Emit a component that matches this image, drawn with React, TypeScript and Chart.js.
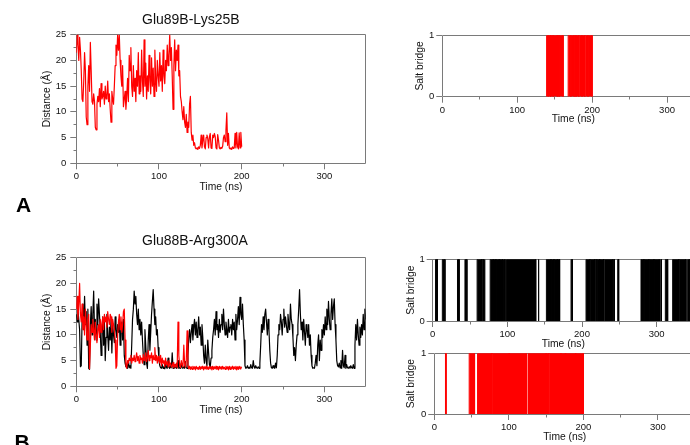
import React, { useEffect, useRef } from "react";
import { Chart, registerables } from "chart.js";

Chart.register(...registerables);

// ---------------- data ----------------
const TIME_STEP_NS = 1;
const TIME_MAX = 350;
const DIST_MAX = 25;

// Panel A: Glu89B-Lys25B distance (Å), red run, 1 ns sampling
const glu89Lys25BRed = [
  21.5, 25, 23, 20, 24.5, 22, 18, 12.5, 12, 16,
  21.5, 18, 9, 7.5, 15, 19, 14, 23.5, 18, 12,
  11.5, 13.5, 12, 7, 6.5, 11.5, 13, 12, 14.5, 11,
  15.5, 12.5, 13, 14, 11.5, 15, 12.5, 13, 16, 12,
  13.5, 10.5, 8, 14, 12.5, 11.5, 15, 19, 23, 21,
  25, 22, 25, 20, 17, 15, 19, 11, 12.5, 14,
  10.5, 13, 16.5, 12, 21, 18, 22.5, 15, 13, 19,
  14, 16.5, 12, 18, 15, 21.5, 13.5, 17, 14, 22,
  16, 13, 24, 15, 19.5, 12.5, 17, 14, 21, 16,
  13.5, 20.5, 15, 18.5, 13, 22, 16.5, 14, 20, 17,
  15, 21.5, 16, 19, 14, 22, 17, 15.5, 20, 18,
  23, 19, 21, 25, 20, 22.5, 17, 10.5, 19, 24,
  18, 22, 20, 23, 17, 18, 13, 12, 10, 8.5,
  11, 8, 7, 9.5, 6, 8, 7, 11.5, 13, 6,
  4.5, 5.5, 3.5, 4, 3, 2.8, 3, 2.7, 3.2, 2.9,
  3.5, 5.5, 3, 4.5, 5.5, 3.2, 2.8, 5, 5.5, 4.8,
  3, 5.2, 5.8, 3, 2.9, 5.5, 5, 5.8, 5.2, 3,
  2.8, 5.6, 4.5, 3, 2.8, 3.1, 2.9, 3.3, 5, 5.5,
  4.2, 6.5, 9.8, 3.5, 5.8, 3, 2.8, 3, 2.7, 3.2,
  2.9, 3, 5.8, 3, 6, 3.2, 2.8, 5.9, 3, 6,
  3.2,
];

// Panel B: Glu88B-Arg300A distance (Å), black run (0-350 ns)
const glu88Arg300ABlack = [
  14, 12.5, 15, 13, 11, 3.8, 4, 13, 16, 11,
  17.5, 12, 14.5, 8, 15, 3.5, 3.3, 12, 15.5, 10,
  14, 18.5, 11, 13, 9, 16, 12, 17, 14, 10.5,
  6, 11, 13.5, 8, 12.5, 5, 9.5, 14, 10, 7,
  11.5, 9, 13, 6.5, 12, 10, 8.5, 13.5, 11, 9.5,
  12, 10.5, 13, 8, 11.5, 12.5, 9, 13, 6, 4.5,
  3.8, 4.2, 3.5, 5, 3.6, 4, 3.5, 8, 13, 15,
  18.5, 16, 17.5, 14, 12, 15, 11, 13, 10, 12.5,
  9, 6, 4.2, 11, 8, 4.5, 3.5, 9, 12, 7,
  10.5, 14, 16.5, 18.8, 15, 12, 13.5, 10, 11, 7.5,
  5, 4, 3.6, 3.5, 4.2, 3.5, 3.8, 3.4, 4.5, 3.6,
  3.5, 5.5, 3.7, 3.5, 4, 3.6, 6.5, 3.5, 3.8, 3.6,
  4.2, 3.5, 3.6, 5, 3.5, 3.7, 3.5, 4.5, 3.6, 3.5,
  3.8, 3.5, 4.8, 3.6, 3.5, 6, 9.5, 11, 8.5, 10.5,
  12, 9, 11.5, 13, 10, 12.5, 9.5, 11, 13.5, 10,
  11.5, 8, 12, 9.5, 6, 4.5, 8, 5, 4, 9,
  6.5, 4.2, 3.8, 5.5, 7, 9.5, 11, 13, 10, 14.5,
  11, 12, 9.5, 13, 10.5, 12, 14, 11, 15, 12,
  10, 12.5, 11, 9.5, 13, 10.5, 11.5, 12, 10, 13,
  11, 12.5, 9, 14, 11, 13, 15.5, 12, 17.3, 14,
  13, 16, 12, 9, 4, 3.5, 3.6, 4, 3.5, 3.7,
  3.5, 4.2, 3.6, 3.5, 5, 3.8, 3.5, 4, 3.6, 3.5,
  3.8, 3.5, 4.5, 8, 12, 10.5, 13.5, 11, 14, 15,
  12.5, 10, 13, 11, 7, 4.5, 3.6, 3.5, 4, 3.6,
  3.5, 4.5, 3.6, 6, 10, 12, 11, 14, 12.5, 10,
  13, 15, 11.5, 13.5, 12, 10.5, 14, 12, 11, 16,
  13, 12, 9.5, 6, 7.5, 5, 8, 10, 12, 15,
  18.8, 14, 11, 12.5, 9, 13, 10.5, 8, 12, 11,
  9.5, 12, 8, 10, 6, 4, 3.5, 3.6, 3.5, 4.5,
  6, 4, 8, 10, 5, 9, 7, 11, 9.5, 12,
  10, 13.5, 11, 15, 12, 16.5, 13, 11, 14, 17,
  13, 15.5, 17, 12, 9, 5, 4, 3.8, 4.5, 3.6,
  5, 3.5, 7, 4, 3.6, 6, 3.5, 4.2, 3.6, 3.5,
  3.8, 3.5, 4, 3.6, 3.5, 4.2, 3.5, 8, 12, 9,
  13, 10, 8, 11.5, 9.5, 12, 10, 14, 11, 15,
  13,
];

// Panel B: Glu88B-Arg300A distance (Å), red run (0-200 ns)
const glu88Arg300ARed = [
  15, 17.5, 13, 16, 20, 14, 12.5, 16, 11, 13.5,
  10, 15, 12, 9, 13, 14, 3.4, 8, 12, 10.5,
  13, 11, 9, 12.5, 10, 8.5, 11, 12, 9.5, 13,
  10.5, 12, 13.5, 11, 14, 12.5, 13.5, 11.5, 14.5, 13,
  12, 14, 13.5, 10.5, 13, 12, 11, 9, 3.5, 4,
  10, 12.5, 14, 11, 13.5, 10.5, 12, 14.5, 15, 9,
  4, 3.5, 5, 4.5, 5.5, 5, 6, 4.5, 5.5, 5,
  6, 4.8, 5.5, 6.5, 5, 5.8, 4.5, 6, 5.2, 5.5,
  4.5, 6.2, 5, 5.5, 6.5, 4.8, 5.5, 7, 5, 6,
  5.5, 6.5, 4.5, 6, 5.2, 7.5, 5, 6, 4.5, 5.8,
  5, 4.5, 6, 4, 5.5, 4.5, 5, 3.8, 5.5, 4.2,
  4.8, 3.8, 5, 4.2, 4.5, 3.7, 4, 4.6, 3.6, 4.2,
  3.8, 4.5, 3.6, 12.5, 6, 4, 3.6, 5, 4.2, 3.8,
  8, 4.5, 3.7, 5, 10.8, 4, 3.4, 3.9, 3.3, 3.8,
  3.3, 3.9, 3.4, 3.8, 3.2, 3.9, 3.4, 3.7, 3.3, 3.9,
  3.3, 3.8, 3.4, 3.9, 3.2, 3.8, 3.4, 3.9, 3.3, 3.7,
  3.3, 3.9, 3.4, 3.8, 3.2, 3.9, 3.3, 3.8, 3.4, 3.9,
  3.3, 3.8, 3.2, 3.9, 3.4, 3.8, 3.3, 3.9, 3.4, 3.7,
  3.3, 3.9, 3.4, 3.8, 3.2, 3.9, 3.3, 3.8, 3.4, 3.9,
  3.3, 3.8, 3.4, 3.9, 3.2, 3.8, 3.3, 3.9, 3.4, 3.8,
  3.5,
];

// Salt bridge present (value 1) intervals, [start ns, end ns]
const bridgeARed: [number, number][] = [
  [139.2, 141.5], [142.2, 144.5], [145, 148], [148.6, 153.5], [154, 156],
  [156.6, 161.3], [168, 171.5], [172.5, 176], [176.8, 178.5], [179.2, 182],
  [182.6, 186.5], [187.2, 190], [190.8, 194.5], [195.3, 200],
];

const bridgeBBlack: [number, number][] = [
  [3.8, 6.2], [12.9, 16.4], [33.2, 35.4], [43.2, 45.8], [59.5, 65.5],
  [66.2, 68], [69, 70], [77, 81.2], [81.8, 84.8], [85.4, 89.2],
  [89.8, 93.5], [94.4, 95.3], [96.2, 97], [98.9, 138], [141.3, 142.2],
  [152.3, 158.5], [159, 162.5], [163, 167], [167.6, 170], [185.3, 187.2],
  [205.4, 210.5], [211, 216.8], [217.5, 220], [220.9, 223.5], [224, 228.8],
  [229.8, 241.2], [242.4, 243.3], [247.8, 249.1], [279, 283], [283.8, 289.8],
  [290.6, 296.5], [297.2, 303.6], [305.5, 306.3], [311.6, 314.7], [321.4, 329.5],
  [330.1, 339.3], [341.5, 344.5],
];

const bridgeBRed: [number, number][] = [
  [15, 15.8], [46.8, 54], [58, 77], [77.5, 100.5], [101, 123.5],
  [125.7, 150], [150.6, 153.5], [154.2, 170], [170.6, 176], [176.6, 189.5],
  [190, 200],
];

const timeTicks = [0, 100, 200, 300];
const timeMinorTicks = [50, 150, 250];
const distanceTicks = [0, 5, 10, 15, 20, 25];
const distanceMinorTicks = [2.5, 7.5, 12.5, 17.5, 22.5];
const bridgeTicks = [0, 1];

const titleA = "Glu89B-Lys25B";
const titleB = "Glu88B-Arg300A";

// ---------------- style ----------------
const FONT = "'Liberation Sans', Arial, Helvetica, sans-serif";
const AXIS = "#7a7a7a";
const TEXT = "#111111";
const RED = "#ff0000";
const BLACK = "#000000";

const alignPx = (p: number) => Math.round(p - 0.5) + 0.5;

const frameMinorPlugin = {
  id: "frameMinor",
  beforeDatasetsDraw(chart: any, _args: any, opts: any) {
    const { ctx, chartArea } = chart;
    const { left, top, right, bottom } = chartArea;
    ctx.save();
    ctx.strokeStyle = AXIS;
    ctx.lineWidth = 1;
    const l = alignPx(left), t = alignPx(top), r = alignPx(right), b = alignPx(bottom);
    ctx.beginPath();
    ctx.moveTo(l, t); ctx.lineTo(r, t); ctx.lineTo(r, b); ctx.lineTo(l, b); ctx.closePath();
    ctx.stroke();
    ctx.beginPath();
    const xs = chart.scales.x, ys = chart.scales.y;
    for (const v of opts.xMinor || []) {
      const p = alignPx(xs.getPixelForValue(v));
      ctx.moveTo(p, b); ctx.lineTo(p, b + 3);
    }
    for (const v of opts.yMinor || []) {
      const p = alignPx(ys.getPixelForValue(v));
      ctx.moveTo(l, p); ctx.lineTo(l - 3, p);
    }
    ctx.stroke();
    ctx.restore();
  },
};

type Geo = {
  left: number; top: number; width: number; height: number;
  padL: number; padT: number; padR: number; padB: number;
  yW: number; xH: number; yPad: number;
};

function seriesPoints(values: number[]) {
  return values.map((v, i) => ({ x: i * TIME_STEP_NS, y: v }));
}

function bridgePoints(intervals: [number, number][]) {
  const pts: { x: number; y: number }[] = [{ x: 0, y: 0 }];
  for (const [s, e] of intervals) {
    pts.push({ x: s, y: 0 }, { x: s, y: 1 }, { x: e, y: 1 }, { x: e, y: 0 });
  }
  pts.push({ x: TIME_MAX, y: 0 });
  return pts;
}

function lineDataset(values: number[], color: string) {
  return {
    data: seriesPoints(values),
    borderColor: color,
    backgroundColor: color,
    borderWidth: 1.2,
    pointRadius: 0,
    borderJoinStyle: "round",
    tension: 0,
    fill: false,
  };
}

function bridgeDataset(intervals: [number, number][], color: string) {
  return {
    data: bridgePoints(intervals),
    borderColor: color,
    backgroundColor: color,
    borderWidth: 1,
    pointRadius: 0,
    tension: 0,
    fill: "origin",
    segment: {
      borderColor: (ctx: any) =>
        ctx.p0.parsed.y === 0 && ctx.p1.parsed.y === 0 ? "rgba(0,0,0,0)" : undefined,
    },
  };
}

function makeConfig(kind: "distance" | "bridge", datasets: any[], g: Geo) {
  const isDist = kind === "distance";
  const tickFont = { family: FONT, size: 9.5 };
  const titleFont = { family: FONT, size: 10.3 };
  return {
    type: "line",
    data: { datasets },
    plugins: [frameMinorPlugin],
    options: {
      responsive: false,
      animation: false,
      devicePixelRatio: 1,
      layout: { padding: { left: g.padL, top: g.padT, right: g.padR, bottom: g.padB } },
      plugins: {
        legend: { display: false },
        tooltip: { enabled: false },
        title: { display: false },
        frameMinor: { xMinor: timeMinorTicks, yMinor: isDist ? distanceMinorTicks : [] },
      },
      scales: {
        x: {
          type: "linear",
          min: 0,
          max: TIME_MAX,
          afterBuildTicks: (s: any) => { s.ticks = timeTicks.map((v) => ({ value: v })); },
          afterFit: (s: any) => { s.height = g.xH; },
          ticks: { padding: 1.5, font: tickFont, color: TEXT, maxRotation: 0, autoSkip: false },
          grid: { display: true, drawOnChartArea: false, drawTicks: true, tickLength: 6, color: AXIS, lineWidth: 1 },
          border: { display: false },
          title: { display: true, text: "Time (ns)", font: titleFont, color: TEXT, padding: 0 },
        },
        y: {
          type: "linear",
          min: 0,
          max: isDist ? DIST_MAX : 1,
          afterBuildTicks: (s: any) => {
            s.ticks = (isDist ? distanceTicks : bridgeTicks).map((v) => ({ value: v }));
          },
          afterFit: (s: any) => { s.width = g.yW; },
          ticks: { padding: g.yPad, font: tickFont, color: TEXT, autoSkip: false },
          grid: { display: true, drawOnChartArea: false, drawTicks: true, tickLength: 6, color: AXIS, lineWidth: 1 },
          border: { display: false },
          title: {
            display: true,
            text: isDist ? "Distance (Å)" : "Salt bridge",
            font: titleFont,
            color: TEXT,
            padding: 0,
          },
        },
      },
    },
  };
}

function ChartBox({ kind, datasets, geo }: { kind: "distance" | "bridge"; datasets: any[]; geo: Geo }) {
  const ref = useRef<HTMLCanvasElement | null>(null);
  useEffect(() => {
    if (!ref.current) return;
    const chart = new Chart(ref.current, makeConfig(kind, datasets, geo) as any);
    return () => chart.destroy();
  }, []);
  return (
    <canvas
      ref={ref}
      width={geo.width}
      height={geo.height}
      style={{ position: "absolute", left: geo.left, top: geo.top, width: geo.width, height: geo.height }}
    />
  );
}

const geoALeft: Geo = { left: 0, top: 0, width: 385, height: 200, padL: 41.4, padT: 34.7, padR: 19.3, padB: 6.4, yW: 34.9, xH: 30.3, yPad: 4 };
const geoBLeft: Geo = { ...geoALeft, top: 222.6 };
const geoARight: Geo = { left: 380, top: 0, width: 330, height: 130, padL: 34.4, padT: 35.3, padR: 5.5, padB: 4.7, yW: 27.9, xH: 28.6, yPad: 2 };
const geoBRightTop: Geo = { left: 370, top: 230, width: 340, height: 125, padL: 35.4, padT: 29.3, padR: 16, padB: 4.7, yW: 27.3, xH: 29.3, yPad: 2 };
const geoBRightBottom: Geo = { left: 370, top: 325, width: 340, height: 125, padL: 35.4, padT: 28.3, padR: 14.8, padB: 7, yW: 28.9, xH: 29, yPad: 2 };

export default function App() {
  const titleStyle: React.CSSProperties = {
    position: "absolute", left: 142, fontFamily: FONT, fontSize: 14, lineHeight: "16px", color: TEXT, whiteSpace: "nowrap",
  };
  const letterStyle: React.CSSProperties = {
    position: "absolute", fontFamily: FONT, fontWeight: "bold", fontSize: 21, lineHeight: "21px", color: "#000",
  };
  return (
    <div style={{ position: "fixed", left: 0, top: 0, width: 690, height: 445, overflow: "hidden", background: "#fff" }}>
      <ChartBox kind="distance" geo={geoALeft} datasets={[lineDataset(glu89Lys25BRed, RED)]} />
      <ChartBox kind="bridge" geo={geoARight} datasets={[bridgeDataset(bridgeARed, RED)]} />
      <ChartBox
        kind="distance"
        geo={geoBLeft}
        datasets={[lineDataset(glu88Arg300ARed, RED), lineDataset(glu88Arg300ABlack, BLACK)]}
      />
      <ChartBox kind="bridge" geo={geoBRightTop} datasets={[bridgeDataset(bridgeBBlack, BLACK)]} />
      <ChartBox kind="bridge" geo={geoBRightBottom} datasets={[bridgeDataset(bridgeBRed, RED)]} />
      <div style={{ ...titleStyle, top: 11.2 }}>{titleA}</div>
      <div style={{ ...titleStyle, top: 232.2 }}>{titleB}</div>
      <div style={{ ...letterStyle, left: 16, top: 193.9 }}>A</div>
      <div style={{ ...letterStyle, left: 14.5, top: 430.5 }}>B</div>
    </div>
  );
}
